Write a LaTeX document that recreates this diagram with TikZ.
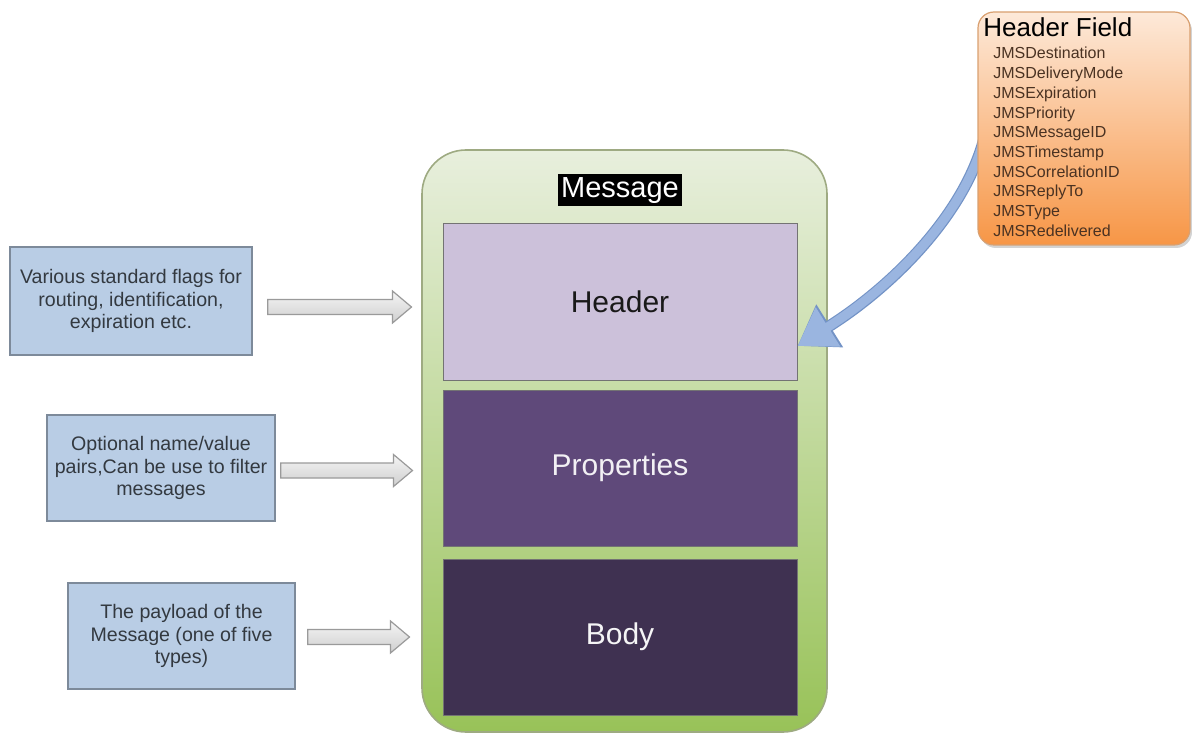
\documentclass[tikz,border=0pt]{standalone}
\usepackage{fontspec}
\setmainfont{Liberation Sans}
\usetikzlibrary{positioning,calc,arrows.meta,shadows}

\pgfdeclarelayer{front}
\pgfsetlayers{main,front}

\definecolor{msgtop}{HTML}{E8EFDD}
\definecolor{msgbot}{HTML}{98C258}
\definecolor{msgedge}{HTML}{9EAA82}
\definecolor{hdrfill}{HTML}{CCC1DA}
\definecolor{propfill}{HTML}{5F497A}
\definecolor{bodyfill}{HTML}{3F3151}
\definecolor{notefill}{HTML}{B9CDE5}
\definecolor{noteedge}{HTML}{7D8A9A}
\definecolor{notetext}{HTML}{333940}
\definecolor{arrowedge}{HTML}{9A9A9A}
\definecolor{hftop}{HTML}{FDE9D9}
\definecolor{hfbot}{HTML}{F79646}
\definecolor{hfedge}{HTML}{D9A070}
\definecolor{hftext}{HTML}{4A3222}
\definecolor{curvecol}{HTML}{9AB5E0}
\definecolor{curveedge}{HTML}{7393C6}

\tikzset{
    msgbox/.style={rectangle, rounded corners=22pt, draw=msgedge, line width=0.8pt,
        top color=msgtop, bottom color=msgbot, minimum width=202.5pt, minimum height=291pt},
    msglabel/.style={fill=black, text=white, inner sep=1.5pt,
        font=\fontsize{14.5}{16}\selectfont},
    part/.style={rectangle, draw=black!55, line width=0.5pt, minimum width=177pt,
        minimum height=78pt, font=\fontsize{15}{17}\selectfont},
    note/.style={rectangle, draw=noteedge, line width=0.8pt, fill=notefill, text=notetext,
        align=center, inner sep=0pt, font=\fontsize{9.8}{11.2}\selectfont},
    blockarrow/.style={draw=arrowedge, line width=0.6pt, top color=gray!8, bottom color=gray!38,
        to path={($(\tikztostart)+(0,-7.5)$) -- ($(\tikztotarget)+(-19,-7.5)$)
            -- ($(\tikztotarget)+(-19,-16)$) -- (\tikztotarget) -- ($(\tikztotarget)+(-19,16)$)
            -- ($(\tikztotarget)+(-19,7.5)$) -- ($(\tikztostart)+(0,7.5)$) -- cycle}},
    hfbox/.style={rectangle, rounded corners=8pt, draw=hfedge, line width=0.6pt,
        top color=hftop, bottom color=hfbot, minimum width=106pt, minimum height=116.5pt,
        drop shadow={shadow xshift=1pt, shadow yshift=-1.5pt, opacity=.35}},
    curvearrow/.style={draw=curvecol, line width=4.6pt, -{Triangle[length=18pt,width=22pt]},
        preaction={draw=curveedge, line width=5.8pt, -{Triangle[length=19pt,width=24pt]}}}
}

\begin{document}
\begin{tikzpicture}[x=0.5pt,y=-0.5pt]
    \useasboundingbox (0,0) rectangle (1192,737);

    % header field list (top right)
    \begin{pgfonlayer}{front}
    \node[hfbox] (hfield) at (1084,128.5) {};
    \node[anchor=base west, inner sep=0pt, font=\fontsize{13}{15}\selectfont] (hftitle) at (983,37) {Header Field};
    \node[anchor=north west, inner sep=0pt, align=left, text=hftext,
          font=\fontsize{8}{9.85}\selectfont] (hflist) at (993,47) {JMSDestination\\
        JMSDeliveryMode\\ JMSExpiration\\ JMSPriority\\ JMSMessageID\\ JMSTimestamp\\
        JMSCorrelationID\\ JMSReplyTo\\ JMSType\\ JMSRedelivered};
    \end{pgfonlayer}

    % message with its three parts
    \node[msgbox] (msg) at (624.5,441) {};
    \node[part, fill=hdrfill, text=black!90] (header) at (620,302) {Header};
    \node[part, fill=propfill, text=white!92!propfill, below=4.5pt of header] (props) {Properties};
    \node[part, fill=bodyfill, text=white!95!bodyfill, below=6pt of props] (body) {Body};
    \node[msglabel, above=8.5pt of header] (msgname) {Message};

    % header field -> header
    \draw[curvearrow] ([xshift=6pt,yshift=10pt]hfield.west) .. controls (982,200) and (895,285) .. ([yshift=-22pt]header.east);

    % notes on the left
    \node[note, minimum width=121pt, minimum height=54pt] (flags) at (131,301)
        {Various standard flags for\\ routing, identification,\\ expiration etc.};
    \node[note, minimum width=114pt, minimum height=53pt] (pairs) at (161,468)
        {Optional name/value\\ pairs,Can be use to filter\\ messages};
    \node[note, minimum width=113.5pt, minimum height=53pt] (payload) at (181.5,636)
        {The payload of the\\ Message (one of five\\ types)};

    \path[blockarrow] ($(flags.east |- header.west)+(15,5)$) to ($(header.west)+(-31,5)$);
    \path[blockarrow] ($(pairs.east |- props.west)+(5,2.5)$) to ($(props.west)+(-30,2.5)$);
    \path[blockarrow] ($(payload.east |- body.west)+(12,0)$) to ($(body.west)+(-33,0)$);
\end{tikzpicture}
\end{document}
